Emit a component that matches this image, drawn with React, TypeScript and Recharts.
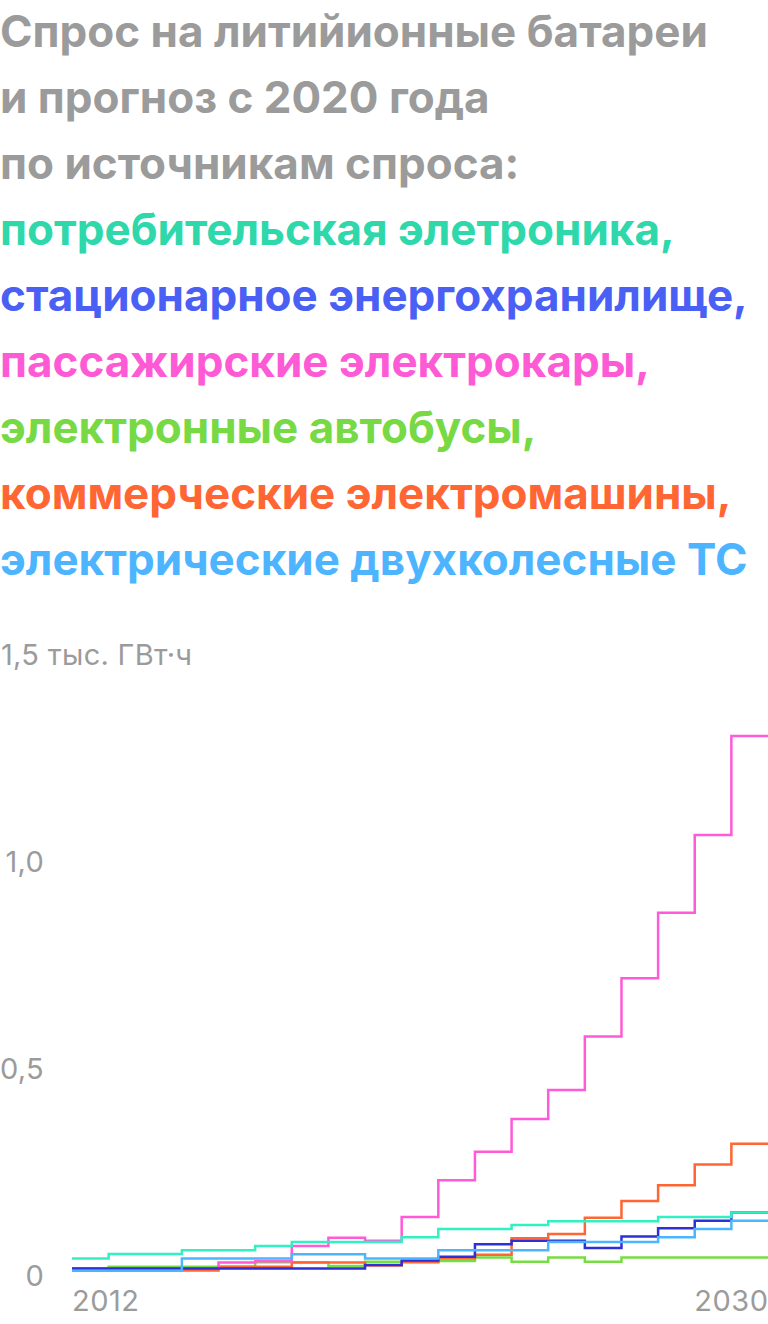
import React from 'react';
import { LineChart, Line, XAxis, YAxis } from 'recharts';

const years = [2012, 2013, 2014, 2015, 2016, 2017, 2018, 2019, 2020, 2021, 2022, 2023, 2024, 2025, 2026, 2027, 2028, 2029, 2030];

// тыс. ГВт·ч
const consumer = [0.040, 0.051, 0.051, 0.060, 0.060, 0.070, 0.080, 0.080, 0.080, 0.091, 0.111, 0.111, 0.121, 0.130, 0.130, 0.130, 0.140, 0.140, 0.151];
const stationary = [0.016, 0.016, 0.016, 0.016, 0.016, 0.016, 0.016, 0.016, 0.024, 0.035, 0.044, 0.074, 0.083, 0.083, 0.065, 0.093, 0.113, 0.131, 0.151];
const passenger = [0.016, 0.016, 0.016, 0.016, 0.030, 0.033, 0.070, 0.090, 0.083, 0.140, 0.229, 0.298, 0.377, 0.447, 0.576, 0.717, 0.875, 1.063, 1.302];
const buses = [0.013, 0.020, 0.020, 0.020, 0.020, 0.031, 0.031, 0.022, 0.032, 0.032, 0.034, 0.042, 0.032, 0.042, 0.032, 0.042, 0.042, 0.042, 0.042];
const commercial = [0.013, 0.013, 0.013, 0.011, 0.020, 0.020, 0.030, 0.030, 0.023, 0.031, 0.040, 0.049, 0.089, 0.099, 0.138, 0.179, 0.217, 0.267, 0.317];
const twoWheelers = [0.010, 0.010, 0.010, 0.040, 0.040, 0.040, 0.050, 0.050, 0.040, 0.040, 0.060, 0.060, 0.060, 0.080, 0.080, 0.080, 0.091, 0.111, 0.131];

const yTicks = [0, 0.5, 1, 1.5];
const yTickLabels = ['0', '0,5', '1,0', '1,5 тыс. ГВт·ч'];
const xTicks = [2012, 2030];

const titleLines = [
    { text: 'Спрос на литийионные батареи', color: '#9b9b9b' },
    { text: 'и прогноз с 2020 года', color: '#9b9b9b' },
    { text: 'по источникам спроса:', color: '#9b9b9b' },
    { text: 'потребительская элетроника,', color: '#2fd8aa' },
    { text: 'стационарное энергохранилище,', color: '#4a60f5' },
    { text: 'пассажирские электрокары,', color: '#ff5ad6' },
    { text: 'электронные автобусы,', color: '#77d944' },
    { text: 'коммерческие электромашины,', color: '#ff6633' },
    { text: 'электрические двухколесные ТС', color: '#4db5ff' },
];

// each year is a step; one extra point closes the last step at the right edge
const data = years.map((year, i) => ({
    year,
    consumer: consumer[i],
    stationary: stationary[i],
    passenger: passenger[i],
    buses: buses[i],
    commercial: commercial[i],
    twoWheelers: twoWheelers[i],
}));
data.push({ ...data[data.length - 1], year: years[years.length - 1] + 1 });

const FONT = 'Inter, "Noto Sans", sans-serif';

const YTick = (props: any) => {
    const { y, payload, index } = props;
    const label = yTickLabels[index];
    const top = payload.value === 1.5;
    return (
        <text
            x={top ? 1 : 44}
            y={y}
            textAnchor={top ? 'start' : 'end'}
            dominantBaseline="central"
            fill="#9b9b9b"
            fontSize={29}
            letterSpacing={0.3}
            fontFamily={FONT}
        >
            {label}
        </text>
    );
};

const XTick = (props: any) => {
    const { x, y, index, payload } = props;
    return (
        <text
            x={x}
            y={y + 28}
            textAnchor={index === 0 ? 'start' : 'middle'}
            fill="#9b9b9b"
            fontSize={29}
            letterSpacing={0.5}
            fontFamily={FONT}
        >
            {payload.value}
        </text>
    );
};

const App = () => {
    return (
        <div style={{ position: 'absolute', left: 0, top: 0, width: 768, height: 1324, background: '#fff' }}>
            <div
                style={{
                    fontFamily: FONT,
                    fontWeight: 700,
                    fontSize: 44,
                    lineHeight: '66px',
                    marginTop: -2,
                    whiteSpace: 'nowrap',
                }}
            >
                {titleLines.map((l) => (
                    <div key={l.text} style={{ color: l.color }}>
                        {l.text}
                    </div>
                ))}
            </div>
            <div style={{ position: 'absolute', left: 0, top: 600 }}>
                <LineChart width={768} height={724} data={data} margin={{ top: 54, right: 0, bottom: 0, left: 0 }}>
                    <XAxis
                        dataKey="year"
                        type="number"
                        domain={[2012, 2031]}
                        ticks={xTicks}
                        axisLine={false}
                        tickLine={false}
                        height={49}
                        tick={<XTick />}
                        interval={0}
                    />
                    <YAxis
                        type="number"
                        domain={[0, 1.5]}
                        ticks={yTicks}
                        axisLine={false}
                        tickLine={false}
                        width={72}
                        tick={<YTick />}
                        interval={0}
                    />
                    <Line type="stepAfter" dataKey="buses" stroke="#77dd44" strokeWidth={2.5} dot={false} isAnimationActive={false} />
                    <Line type="stepAfter" dataKey="commercial" stroke="#ff6633" strokeWidth={2.5} dot={false} isAnimationActive={false} />
                    <Line type="stepAfter" dataKey="passenger" stroke="#ff5ad8" strokeWidth={2.5} dot={false} isAnimationActive={false} />
                    <Line type="stepAfter" dataKey="stationary" stroke="#2f2fd8" strokeWidth={2.5} dot={false} isAnimationActive={false} />
                    <Line type="stepAfter" dataKey="consumer" stroke="#33f0c2" strokeWidth={2.5} dot={false} isAnimationActive={false} />
                    <Line type="stepAfter" dataKey="twoWheelers" stroke="#4db5ff" strokeWidth={2.5} dot={false} isAnimationActive={false} />
                </LineChart>
            </div>
        </div>
    );
};

export default App;
